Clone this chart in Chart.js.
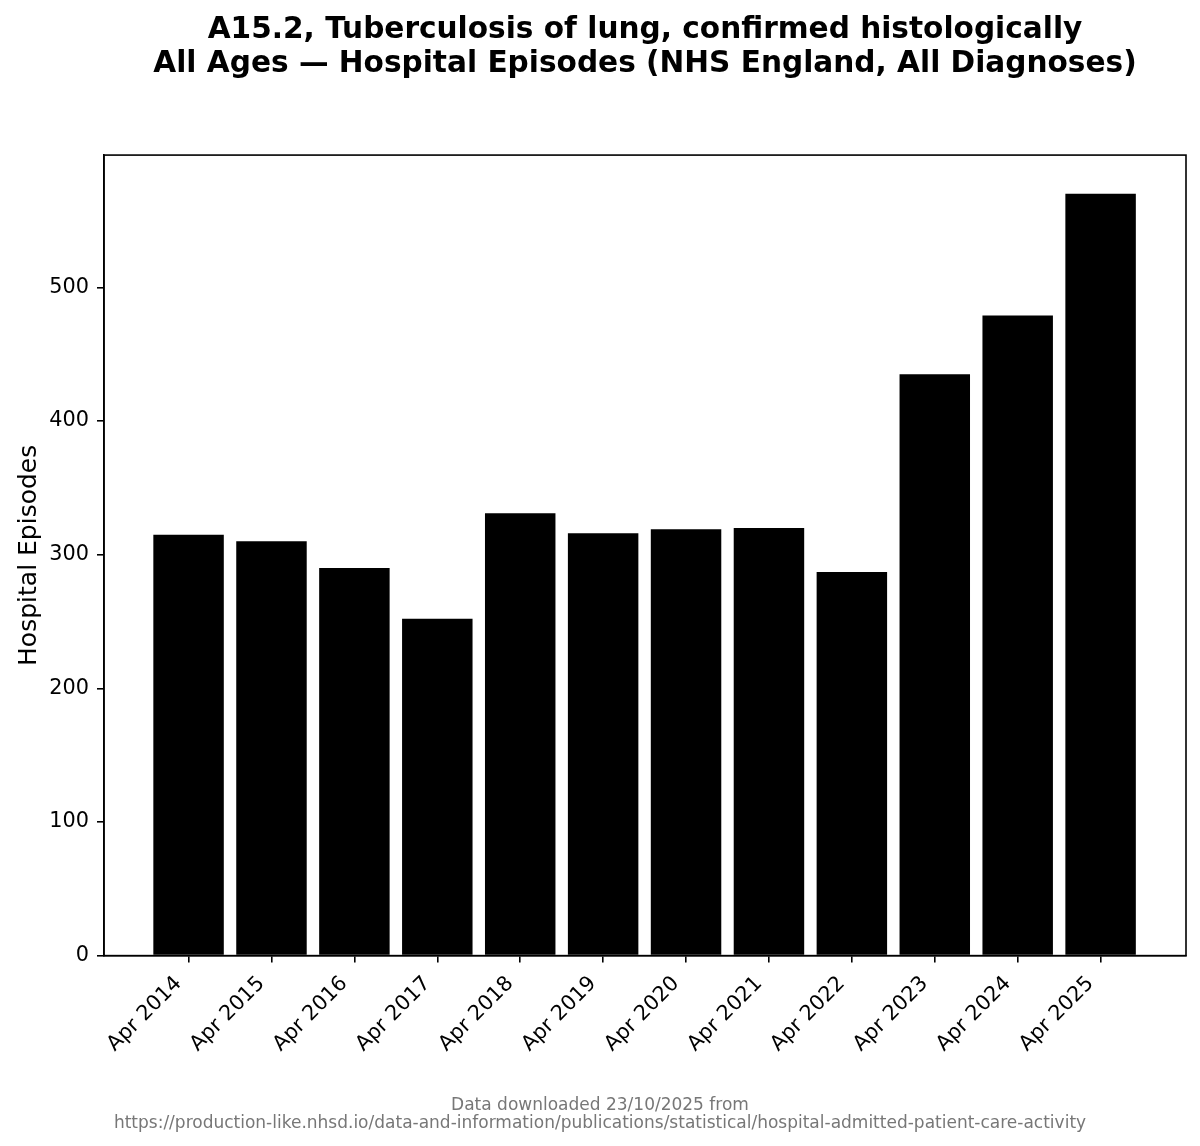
<!DOCTYPE html>
<html>
<head>
<meta charset="utf-8">
<script src="https://cdn.jsdelivr.net/npm/chart.js@4.4.1/dist/chart.umd.min.js"></script>
<style>
  html, body { margin: 0; padding: 0; background: #fff; }
  #wrap { width: 1200px; height: 1146px; }
</style>
</head>
<body>
<div id="wrap"><canvas id="c" width="1200" height="1146"></canvas></div>
<script>
const categories = ["Apr 2014","Apr 2015","Apr 2016","Apr 2017","Apr 2018","Apr 2019","Apr 2020","Apr 2021","Apr 2022","Apr 2023","Apr 2024","Apr 2025"];
const episodes = [315, 310, 290, 252, 331, 316, 319, 320, 287, 435, 479, 570];
const yTicks = [0, 100, 200, 300, 400, 500];
const titleLines = ["A15.2, Tuberculosis of lung, confirmed histologically", "All Ages \u2014 Hospital Episodes (NHS England, All Diagnoses)"];
const footerLines = ["Data downloaded 23/10/2025 from", "https://production-like.nhsd.io/data-and-information/publications/statistical/hospital-admitted-patient-care-activity"];
const yLabel = "Hospital Episodes";

const FONT = "'DejaVu Sans', sans-serif";

const boxPlugin = {
  id: 'boxPlugin',
  afterDraw(chart) {
    const a = chart.chartArea, ctx = chart.ctx;
    ctx.save();
    ctx.strokeStyle = '#000';
    ctx.lineWidth = 1.6;
    ctx.strokeRect(a.left, a.top, a.right - a.left, a.bottom - a.top);
    ctx.restore();
  }
};

new Chart(document.getElementById('c'), {
  type: 'bar',
  data: {
    datasets: [{
      data: episodes.map((v, i) => ({x: i, y: v})),
      backgroundColor: '#000',
      borderWidth: 0,
      barPercentage: 0.85,
      categoryPercentage: 1.0
    }]
  },
  options: {
    responsive: false,
    animation: false,
    devicePixelRatio: 1,
    layout: { padding: { left: 14, right: 14, top: 0, bottom: 0 } },
    plugins: {
      legend: { display: false },
      tooltip: { enabled: false },
      title: {
        display: true,
        text: titleLines,
        fullSize: false,
        color: '#000',
        font: { family: FONT, size: 29.6, weight: 'bold', lineHeight: 1.15 },
        padding: { top: 13, bottom: 74 }
      },
      subtitle: {
        display: true,
        position: 'bottom',
        text: footerLines,
        color: '#777',
        font: { family: FONT, size: 17, lineHeight: 1.07 },
        padding: { top: 0, bottom: 13 }
      }
    },
    scales: {
      x: {
        type: 'linear',
        min: -1.02,
        max: 12.03,
        offset: false,
        afterBuildTicks(axis) {
          axis.ticks = categories.map((c, i) => ({ value: i }));
        },
        afterFit(axis) { axis.height = 141; },
        ticks: {
          autoSkip: false,
          minRotation: 45,
          maxRotation: 45,
          color: '#000',
          padding: 9,
          labelOffset: -10,
          font: { family: FONT, size: 20.8 },
          callback: (v) => categories[v] !== undefined ? categories[v] : ''
        },
        grid: { offset: false, drawOnChartArea: false, drawTicks: true, tickLength: 7, color: '#000', lineWidth: 1.6 },
        border: { display: true, color: '#000', width: 1.6 }
      },
      y: {
        min: 0,
        max: 599,
        afterBuildTicks(axis) {
          axis.ticks = yTicks.map(v => ({ value: v }));
        },
        afterFit(axis) { axis.width = 90; },
        ticks: {
          color: '#000',
          padding: 8,
          font: { family: FONT, size: 20.8 }
        },
        title: {
          display: true,
          text: yLabel,
          color: '#000',
          font: { family: FONT, size: 25 },
          padding: { top: 0, bottom: 0 }
        },
        grid: { drawOnChartArea: false, drawTicks: true, tickLength: 7, color: '#000', lineWidth: 1.6 },
        border: { display: true, color: '#000', width: 1.6 }
      }
    }
  },
  plugins: [boxPlugin]
});
</script>
</body>
</html>
